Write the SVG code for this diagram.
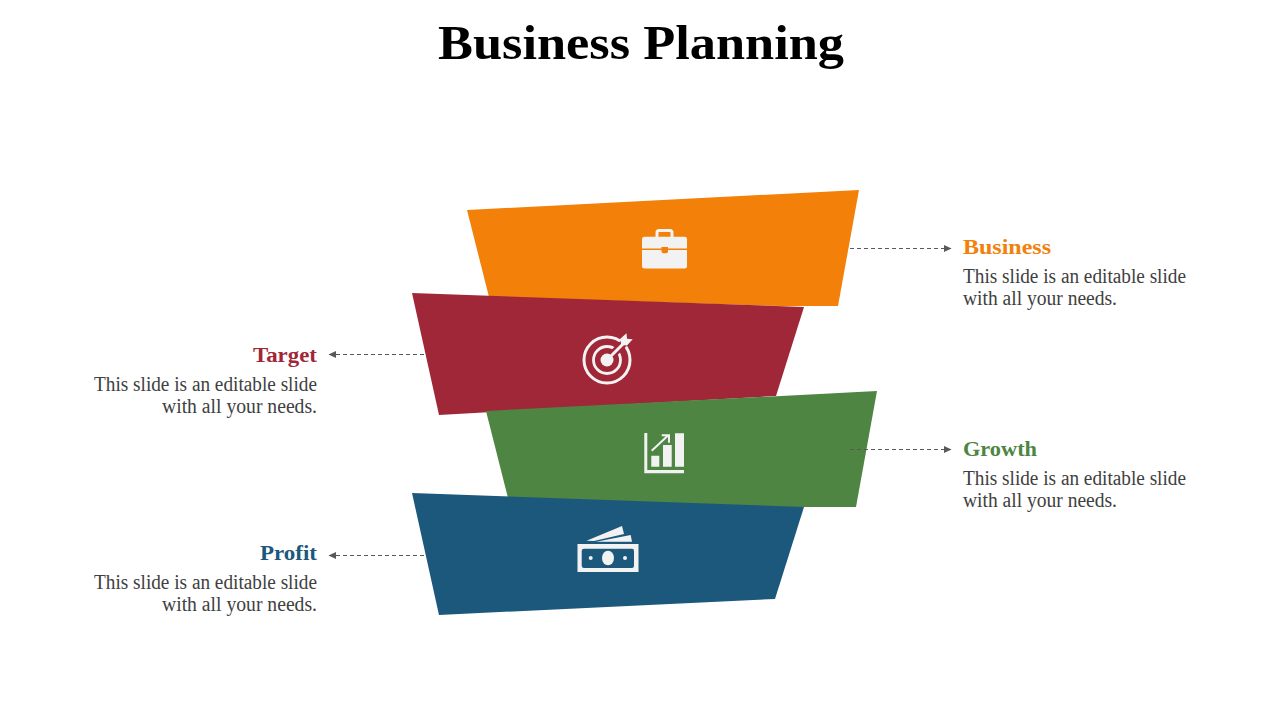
<svg xmlns="http://www.w3.org/2000/svg" width="1280" height="720" viewBox="0 0 1280 720">
<style>
text{font-family:"Liberation Serif","DejaVu Serif",serif}
.h{font-size:20px;font-weight:700}
.b{font-size:20px;fill:#404040}
.l{fill:none;stroke:#595959;stroke-width:1;stroke-dasharray:4 3}
.i{fill:#f2f2f2}
.e{text-anchor:end}
</style>
<defs><marker id="a" markerWidth="8" markerHeight="8" refX="7" refY="4" orient="auto" markerUnits="userSpaceOnUse"><path d="M0 0.500L7.500 4L0 7.500Z" fill="#595959"/></marker></defs>
<rect width="1280" height="720" fill="#fff"/>
<text x="641" y="59" text-anchor="middle" font-size="48" font-weight="700" textLength="406" lengthAdjust="spacingAndGlyphs">Business Planning</text>
<g id="business">
<path d="M467 210L859 190L838 306L780 306L489 297Z" fill="#f28009"/>
<path class="i" d="M642 239Q642 236.700 644.500 236.700H655.500V232.500Q655.500 229 659 229H670Q673.500 229 673.500 232.500V236.700H684.500Q687 236.700 687 239V248.500H642ZM658.500 236.700H670.500V232.800Q670.500 232 669.700 232H659.300Q658.500 232 658.500 232.800ZM642 250H687V266Q687 268.500 684.500 268.500H644.500Q642 268.500 642 266Z"/>
<path d="M661.500 247H668V251.500Q668 253.300 666 253.300H663.500Q661.500 253.300 661.500 251.500Z" fill="#f28009"/>
<text class="h" x="963" y="254" fill="#f28009" textLength="88" lengthAdjust="spacingAndGlyphs">Business</text>
<text class="b" x="963" y="283" textLength="223" lengthAdjust="spacingAndGlyphs">This slide is an editable slide</text>
<text class="b" x="963" y="305" textLength="154" lengthAdjust="spacingAndGlyphs">with all your needs.</text>
</g>
<g id="target">
<path d="M412 293L804 307L776 396L439 415Z" fill="#a02738"/>
<circle cx="607" cy="360" r="23" fill="none" stroke="#f2f2f2" stroke-width="3"/>
<circle cx="607" cy="360" r="13.500" fill="none" stroke="#f2f2f2" stroke-width="2.800"/>
<path d="M612 355L628 339" stroke="#a02738" stroke-width="8" fill="none"/>
<circle cx="607" cy="360" r="6.500" class="i"/>
<path d="M607 360L624 343" stroke="#f2f2f2" stroke-width="3" fill="none"/>
<path class="i" d="M620 339L626.500 333.300L627 338.800L632.700 339.300L627 345.500L621.500 345Z"/>
<text class="h e" x="317" y="362" fill="#a02738" textLength="64" lengthAdjust="spacingAndGlyphs">Target</text>
<text class="b e" x="317" y="391" textLength="223" lengthAdjust="spacingAndGlyphs">This slide is an editable slide</text>
<text class="b e" x="317" y="413" textLength="155" lengthAdjust="spacingAndGlyphs">with all your needs.</text>
</g>
<g id="growth">
<path d="M486 411L877 391L856 507L780 507L508 498Z" fill="#4e8542"/>
<path class="i" d="M644.300 433H647.300V470H684V473.300H644.300ZM651.300 455.700H659.300V466.700H651.300ZM663 445H671.700V466.700H663ZM675 433.300H684V466.700H675Z"/>
<path d="M651.700 450.700L668 435.500M661.700 435.300H669V442.700" fill="none" stroke="#f2f2f2" stroke-width="2"/>
<text class="h" x="963" y="456" fill="#4e8542" textLength="74" lengthAdjust="spacingAndGlyphs">Growth</text>
<text class="b" x="963" y="485" textLength="223" lengthAdjust="spacingAndGlyphs">This slide is an editable slide</text>
<text class="b" x="963" y="507" textLength="154" lengthAdjust="spacingAndGlyphs">with all your needs.</text>
</g>
<g id="profit">
<path d="M412 493L804 507L775 599L439 615Z" fill="#1c587c"/>
<path class="i" fill-rule="evenodd" d="M577.500 544H638.500V572H577.500ZM584 548.700Q581.700 548.700 581.700 551V565.500Q581.700 568 584 568H632Q634 568 634 565.500V551Q634 548.700 632 548.700Z"/>
<ellipse class="i" cx="608" cy="558" rx="6" ry="7.300"/>
<circle class="i" cx="590.700" cy="558" r="2"/>
<circle class="i" cx="625" cy="558" r="2"/>
<path class="i" d="M586.500 540.800L622 526L624 534L594 541ZM596 541.700L630.700 535L632 541.700Z"/>
<text class="h e" x="317" y="560" fill="#1c587c" textLength="57" lengthAdjust="spacingAndGlyphs">Profit</text>
<text class="b e" x="317" y="589" textLength="223" lengthAdjust="spacingAndGlyphs">This slide is an editable slide</text>
<text class="b e" x="317" y="611" textLength="155" lengthAdjust="spacingAndGlyphs">with all your needs.</text>
</g>
<g id="connectors">
<path class="l" d="M850 248.500H951" marker-end="url(#a)"/>
<path class="l" d="M424 354.500H329" marker-end="url(#a)"/>
<path class="l" d="M850 449.500H951" marker-end="url(#a)"/>
<path class="l" d="M424 555.500H329" marker-end="url(#a)"/>
</g>
</svg>
